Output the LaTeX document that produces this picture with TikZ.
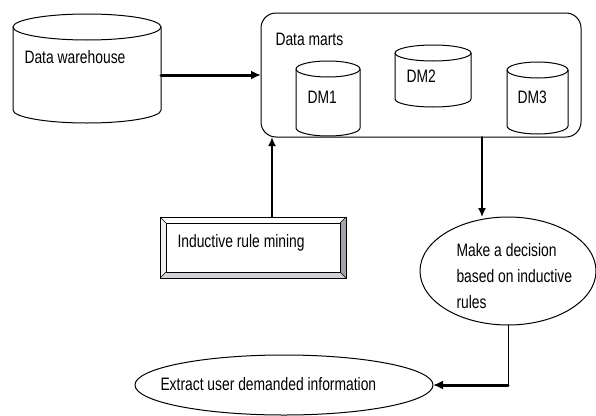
\documentclass[tikz,border=0pt]{standalone}
\usepackage{fontspec}
\setmainfont{Liberation Sans}[FakeStretch=0.77]
\usetikzlibrary{arrows.meta}
\usetikzlibrary{positioning}
\usetikzlibrary{shapes.geometric}
\definecolor{bevellight}{rgb}{0.94,0.94,0.94}
\definecolor{bevelmid}{rgb}{0.82,0.82,0.84}
\definecolor{beveldark}{rgb}{0.63,0.64,0.66}
% cylinder: left, top, right, bottom, cap radius
\newcommand{\dbcyl}[5]{%
  \draw (#1,#2+#5) -- (#1,#4-#5) arc[start angle=180, end angle=0, x radius={(#3-#1)/2}, y radius=#5] -- (#3,#2+#5);
  \draw ({(#1+#3)/2},#2+#5) ellipse [x radius={(#3-#1)/2}, y radius=#5];
}

\begin{document}
\begin{tikzpicture}[line cap=round,line join=round, x=1pt,y=-1pt, line width=1pt,
  font=\fontsize{18}{26}\selectfont,
  lbl/.style={anchor=base west, inner sep=0pt},
  flow/.style={line width=2pt, -{Latex[length=9pt, width=8pt]}},
  bigflow/.style={line width=3pt, -{Latex[length=10pt, width=9pt]}}]
\useasboundingbox (0,0) rectangle (596,415);
% stores
\node [minimum width=148pt, minimum height=109pt, outer sep=0pt] (warehouse) at (87,68.5) {};
\dbcyl{13}{14}{161}{123}{13}
\node [draw, rounded corners=15pt, minimum width=320pt, minimum height=124pt, outer sep=0pt] (marts) at (421,75) {};
\dbcyl{296}{61}{360}{136}{8}
\dbcyl{395}{45}{471}{107}{8}
\dbcyl{507}{62}{568}{134}{8}
\draw (24,63) node[lbl] (warehousetext) {Data warehouse};
\draw (275,45) node[lbl] (martstext) {Data marts};
\draw (307,103) node[lbl] (dm1text) {DM1};
\draw (406,82) node[lbl] (dm2text) {DM2};
\draw (517,103) node[lbl] (dm3text) {DM3};
% bevelled box
\node [draw, minimum width=186pt, minimum height=61pt, outer sep=0pt] (mining) at (253,247.5) {};
\fill [bevelmid] (mining.south west) -- (mining.south east) -- ([shift={(-6,-6)}]mining.south east) -- ([shift={(6,-6)}]mining.south west) -- cycle;
\fill [beveldark] (mining.south east) -- (mining.north east) -- ([shift={(-6,6)}]mining.north east) -- ([shift={(-6,-6)}]mining.south east) -- cycle;
\fill [bevellight] (mining.south west) -- (mining.north west) -- ([shift={(6,6)}]mining.north west) -- ([shift={(6,-6)}]mining.south west) -- cycle;
\draw (mining.south west) rectangle (mining.north east);
\draw ([shift={(6,6)}]mining.north west) rectangle ([shift={(-6,-6)}]mining.south east);
\draw [line width=0.6pt] (mining.north west) -- ([shift={(6,6)}]mining.north west);
\draw [line width=0.6pt] (mining.south west) -- ([shift={(6,-6)}]mining.south west);
\draw [line width=0.6pt] (mining.south east) -- ([shift={(-6,-6)}]mining.south east);
\draw [line width=0.6pt] (mining.north east) -- ([shift={(-6,6)}]mining.north east);
\draw (177,247) node[lbl] (miningtext) {Inductive rule mining};
% decisions
\node [draw, ellipse, minimum width=176pt, minimum height=108pt, inner sep=0pt, outer sep=0pt] (decision) at (508,271) {};
\node [anchor=north west, inner sep=0pt, align=left] (decisiontext) at (456,243) {Make a decision\\based on inductive\\rules};
\node [draw, ellipse, minimum width=298pt, minimum height=60pt, inner sep=0pt, outer sep=0pt] (extract) at (284,385) {};
\draw (160,390) node[lbl] (extracttext) {Extract user demanded information};
% flows
\draw [bigflow] (marts.west -| warehouse.east) -- (marts.west);
\draw [flow] ([xshift=19pt]mining.north) -- ([xshift=19pt]mining.north |- marts.south);
\coordinate (down) at (482,137);
\draw [flow, line width=1.5pt] (down) -- (down |- decision.north);
\coordinate (bend) at (decision.south |- extract.east);
\draw (decision.south) -- (bend);
\draw [bigflow] (bend) -- (extract.east);
\end{tikzpicture}
\end{document}
